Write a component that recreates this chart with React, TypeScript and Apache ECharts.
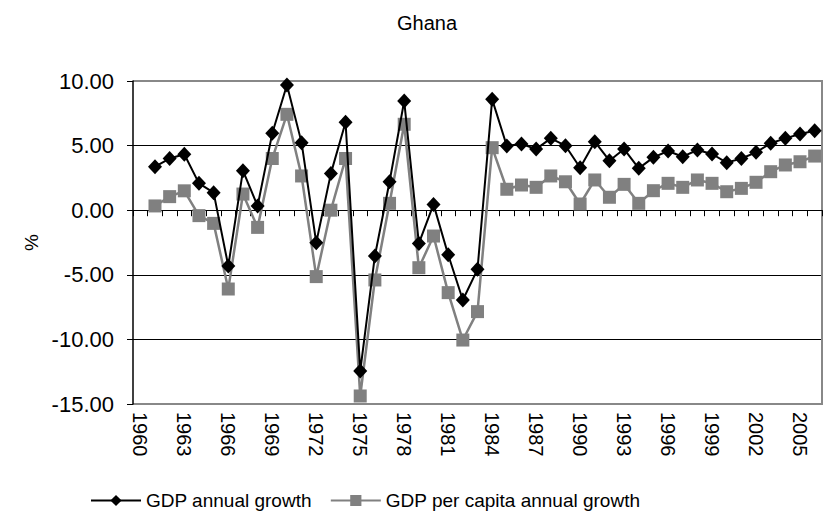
import React, { useEffect, useRef } from "react";
import * as echarts from "echarts";

const years: string[] = [];
for (let y = 1960; y <= 2006; y++) years.push(String(y));

const gdpGrowth: (number | null)[] = [
  null, 3.37, 4.0, 4.33, 2.08, 1.36, -4.32, 3.06, 0.33, 5.95,
  9.69, 5.23, -2.51, 2.85, 6.8, -12.45, -3.54, 2.2, 8.45, -2.57,
  0.45, -3.45, -6.95, -4.58, 8.58, 4.97, 5.12, 4.73, 5.56, 4.99,
  3.29, 5.3, 3.83, 4.73, 3.24, 4.09, 4.58, 4.14, 4.66, 4.35,
  3.68, 4.0, 4.48, 5.18, 5.56, 5.9, 6.15,
];

const gdpPerCapitaGrowth: (number | null)[] = [
  null, 0.33, 1.05, 1.5, -0.42, -1.02, -6.1, 1.25, -1.33, 4.0,
  7.42, 2.65, -5.14, 0.0, 4.0, -14.38, -5.4, 0.53, 6.65, -4.45,
  -2.0, -6.38, -10.05, -7.85, 4.84, 1.62, 1.95, 1.77, 2.65, 2.2,
  0.48, 2.34, 1.0, 2.0, 0.53, 1.51, 2.08, 1.77, 2.34, 2.08,
  1.43, 1.69, 2.16, 2.98, 3.5, 3.75, 4.19,
];

const FONT = "'Liberation Sans', Arial, sans-serif";

export default function App() {
  const ref = useRef<HTMLDivElement>(null);
  useEffect(() => {
    if (!ref.current) return;
    const chart = echarts.init(ref.current, null, { renderer: "svg" });
    chart.setOption({
      animation: false,
      backgroundColor: "#ffffff",
      textStyle: { fontFamily: FONT },
      title: {
        text: "Ghana",
        left: 392,
        top: 8,
        textStyle: { fontFamily: FONT, fontSize: 20, fontWeight: "normal", color: "#000" },
      },
      legend: {
        left: 85,
        top: 486,
        itemWidth: 50,
        itemHeight: 14,
        itemGap: 18,
        textStyle: { fontFamily: FONT, fontSize: 19, color: "#000" },
        data: ["GDP annual growth", "GDP per capita annual growth"],
      },
      grid: {
        left: 133,
        right: 2,
        top: 81,
        bottom: 114,
        containLabel: false,
        outerBoundsMode: "none",
      },
      xAxis: {
        type: "category",
        data: years,
        position: "bottom",
        boundaryGap: true,
        axisLine: { onZero: true, show: true, lineStyle: { color: "#000", width: 1 } },
        axisTick: { show: true, inside: false, length: 6, interval: 0, lineStyle: { color: "#000" } },
        axisLabel: {
          interval: 2,
          rotate: -90,
          fontSize: 20,
          color: "#000",
          fontFamily: FONT,
          margin: 8,
          hideOverlap: false,
        },
        splitLine: { show: false },
      },
      yAxis: [
        {
          type: "value",
          min: -15,
          max: 10,
          interval: 5,
          name: "%",
          nameLocation: "middle",
          nameGap: 84,
          nameRotate: 90,
          nameTextStyle: { fontFamily: FONT, fontSize: 19, color: "#000" },
          axisLine: { show: true, onZero: false, lineStyle: { color: "#000", width: 1.5 } },
          axisTick: { show: true, length: 6, lineStyle: { color: "#000" } },
          axisLabel: {
            fontSize: 22,
            color: "#000",
            fontFamily: FONT,
            margin: 19,
            formatter: (v: number) => v.toFixed(2),
          },
          splitLine: {
            show: true,
            lineStyle: { color: ["#888", "#000", "#000", "#000", "#000", "#888"], width: 1 },
          },
        },
        {
          type: "value",
          min: -15,
          max: 10,
          interval: 5,
          position: "right",
          axisLine: { show: true, onZero: false, lineStyle: { color: "#888", width: 2 } },
          axisTick: { show: false },
          axisLabel: { show: false },
          splitLine: { show: false },
        },
      ],
      graphic: [
        {
          type: "line",
          shape: { x1: 133, y1: 81, x2: 823, y2: 81 },
          style: { stroke: "#888", lineWidth: 2 },
          silent: true,
        },
        {
          type: "line",
          shape: { x1: 133, y1: 404, x2: 823, y2: 404 },
          style: { stroke: "#888", lineWidth: 2 },
          silent: true,
        },
      ],
      series: [
        {
          name: "GDP annual growth",
          type: "line",
          data: gdpGrowth,
          symbol: "diamond",
          symbolSize: [14, 15],
          showAllSymbol: true,
          itemStyle: { color: "#000000" },
          lineStyle: { color: "#000000", width: 2 },
          z: 3,
        },
        {
          name: "GDP per capita annual growth",
          type: "line",
          data: gdpPerCapitaGrowth,
          symbol: "rect",
          symbolSize: 13,
          showAllSymbol: true,
          itemStyle: { color: "#808080" },
          lineStyle: { color: "#808080", width: 2.5 },
          z: 2,
        },
      ],
    });
    return () => chart.dispose();
  }, []);
  return (
    <div
      ref={ref}
      style={{ position: "fixed", left: 0, top: 0, width: 824, height: 518 }}
    />
  );
}
